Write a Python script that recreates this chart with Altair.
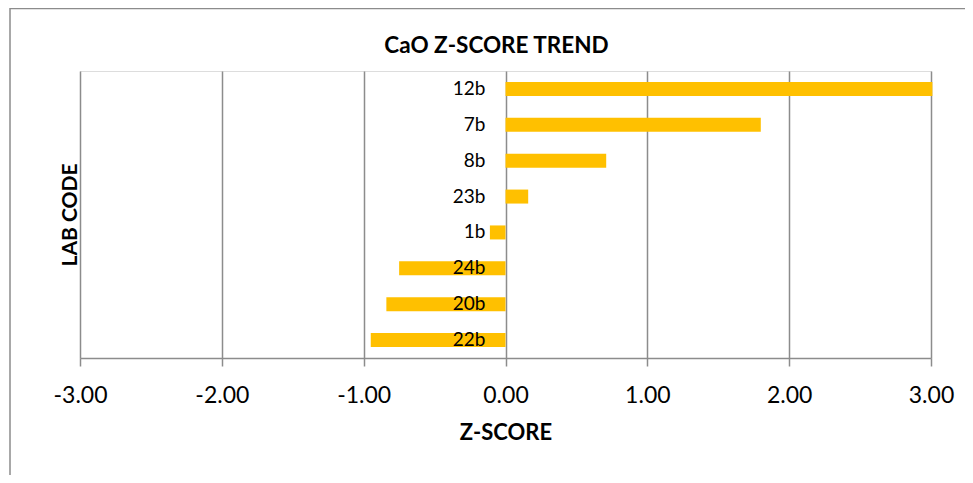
import altair as alt
import pandas as pd

codes = ["12b", "7b", "8b", "23b", "1b", "24b", "20b", "22b"]
zscores = [3.01, 1.80, 0.71, 0.16, -0.11, -0.75, -0.84, -0.95]
tick_values = [-3, -2, -1, 0, 1, 2, 3]
chart_title = "CaO Z-SCORE TREND"

df = pd.DataFrame({"code": codes, "z": zscores})

FONT = "Lato"
GRID = "#8c8c8c"
BAR = "#FFC000"

x_enc = alt.X(
    "z:Q",
    title="Z-SCORE",
    scale=alt.Scale(domain=[-3, 3], nice=False),
    axis=alt.Axis(
        values=tick_values,
        labelExpr="(datum.value < 0 ? '-' : '') + format(abs(datum.value), '.2f')",
        labelFlush=False,
        grid=True, gridColor=GRID, gridWidth=1.5,
        domainColor=GRID, domainWidth=1.5,
        tickColor=GRID, tickWidth=1.5, tickSize=8,
        labelFont=FONT, labelFontSize=23, labelColor="black", labelPadding=18,
        titleFont=FONT, titleFontSize=22, titleFontWeight="bold", titleColor="black",
        titlePadding=15,
    ),
)
y_enc = alt.Y(
    "code:N",
    sort=codes,
    title="LAB CODE",
    scale=alt.Scale(paddingInner=0, paddingOuter=0),
    axis=alt.Axis(
        labels=False, ticks=False, domain=False, grid=False,
        titleFont=FONT, titleFontSize=21, titleFontWeight="bold", titleColor="black",
        titlePadding=0,
    ),
)

border = alt.Chart(pd.DataFrame({"a": [0]})).mark_rect(
    fillOpacity=0, stroke=GRID, strokeWidth=1.5
).encode(
    x=alt.value(-70), x2=alt.value(900), y=alt.value(-62.5), y2=alt.value(420)
)

title_text = alt.Chart(pd.DataFrame({"t": [chart_title]})).mark_text(
    font=FONT, fontSize=22.5, fontWeight="bold", color="black",
    align="center", baseline="alphabetic",
).encode(
    x=alt.value(416.5), y=alt.value(-18), text="t:N"
)

bars = alt.Chart(df).mark_bar(color=BAR, size=14).encode(
    x=x_enc, x2=alt.datum(0), y=y_enc
)

labels = alt.Chart(df).mark_text(
    align="right", baseline="middle", dx=-20, font=FONT, fontSize=19, color="black"
).encode(
    x=alt.datum(0),
    y=alt.Y("code:N", sort=codes),
    text="code:N",
)

chart = alt.layer(border, bars, labels, title_text).properties(
    width=851,
    height=287,
    autosize=alt.AutoSizeParams(type="none"),
    padding={"left": 72, "top": 63, "right": 34, "bottom": 117},
).configure_view(stroke=None).configure(background="white")

chart.save("out.html", embed_options={"renderer": "svg", "actions": False})
